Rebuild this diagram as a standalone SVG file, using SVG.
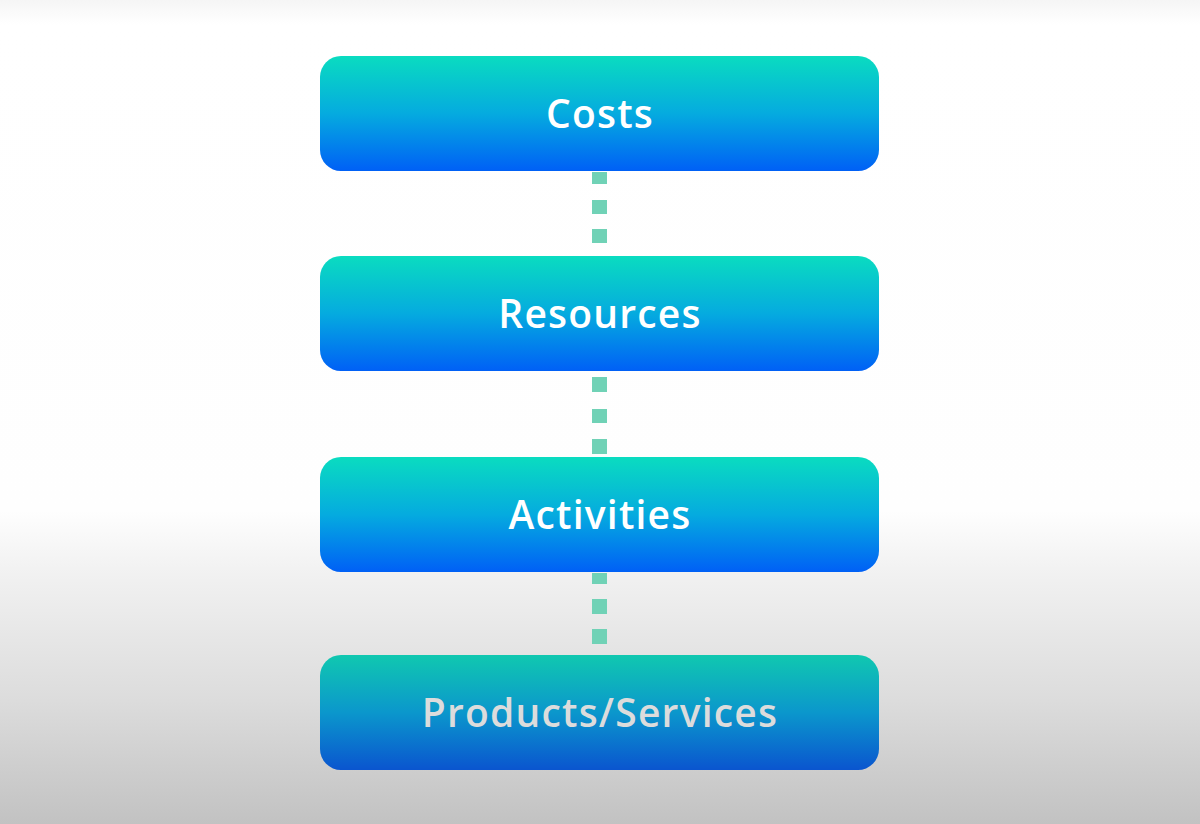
<svg xmlns="http://www.w3.org/2000/svg" width="1200" height="824" viewBox="0 0 1200 824">
  <defs>
    <linearGradient id="bg" x1="0" y1="0" x2="0" y2="1">
      <stop offset="0" stop-color="#f5f5f5"/>
      <stop offset="0.03" stop-color="#ffffff"/>
      <stop offset="0.62" stop-color="#fefefe"/>
      <stop offset="0.69" stop-color="#f2f2f2"/>
      <stop offset="0.85" stop-color="#dcdcdc"/>
      <stop offset="1" stop-color="#c2c2c2"/>
    </linearGradient>
    <linearGradient id="boxg" x1="0" y1="0" x2="0" y2="1">
      <stop offset="0" stop-color="#0adcc0"/>
      <stop offset="0.5" stop-color="#05abdf"/>
      <stop offset="1" stop-color="#0060f6"/>
    </linearGradient>
    <linearGradient id="boxg4" x1="0" y1="0" x2="0" y2="1">
      <stop offset="0" stop-color="#10c8b0"/>
      <stop offset="0.5" stop-color="#0b97cc"/>
      <stop offset="1" stop-color="#0a55cf"/>
    </linearGradient>
  </defs>
  <style>
    .box { fill: url(#boxg); }
    .box4 { fill: url(#boxg4); }
    .lbl { font-family: "Open Sans", "Noto Sans", "Liberation Sans", sans-serif; font-weight: 600; font-size: 39px; letter-spacing: 1.2px; fill: #ffffff; text-anchor: middle; }
    .lbl4 { fill: #dcdcdc; }
    .dash { fill: #70d2b6; }
  </style>
  <rect x="0" y="0" width="1200" height="824" fill="url(#bg)"/>
  <g id="connectors">
    <rect class="dash" x="592" y="172" width="15" height="12"/>
    <rect class="dash" x="592" y="200" width="15" height="14"/>
    <rect class="dash" x="592" y="229" width="15" height="14"/>
    <rect class="dash" x="592" y="377" width="15" height="15"/>
    <rect class="dash" x="592" y="409" width="15" height="14"/>
    <rect class="dash" x="592" y="439" width="15" height="15"/>
    <rect class="dash" x="592" y="573" width="15" height="11"/>
    <rect class="dash" x="592" y="599" width="15" height="15"/>
    <rect class="dash" x="592" y="629" width="15" height="15"/>
  </g>
  <g id="costs">
    <rect class="box" x="320" y="56" width="559" height="115" rx="21"/>
    <text class="lbl" x="600" y="127.5">Costs</text>
  </g>
  <g id="resources">
    <rect class="box" x="320" y="256" width="559" height="115" rx="21"/>
    <text class="lbl" x="600" y="327.5">Resources</text>
  </g>
  <g id="activities">
    <rect class="box" x="320" y="457" width="559" height="115" rx="21"/>
    <text class="lbl" x="600" y="528.5">Activities</text>
  </g>
  <g id="products">
    <rect class="box4" x="320" y="655" width="559" height="115" rx="21"/>
    <text class="lbl lbl4" x="600" y="726.5">Products/Services</text>
  </g>
</svg>
